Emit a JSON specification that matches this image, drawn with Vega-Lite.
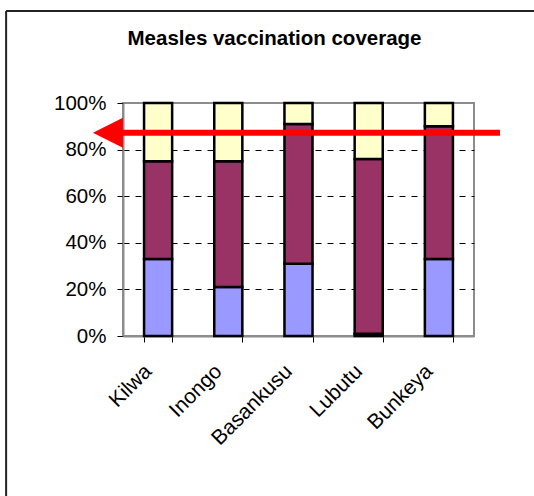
{
  "$schema": "https://vega.github.io/schema/vega-lite/v6.json",
  "width": 351,
  "height": 233,
  "autosize": {"type": "none"},
  "padding": {"left": 123, "top": 103, "right": 60, "bottom": 160},
  "background": "white",
  "title": {
    "text": "Measles vaccination coverage",
    "font": "Liberation Sans",
    "fontSize": 20.5,
    "fontWeight": "bold",
    "color": "black",
    "anchor": "middle",
    "baseline": "alphabetic",
    "dx": -24,
    "offset": -56
  },
  "config": {
    "view": {"stroke": "#8c8c8c", "strokeWidth": 2}
  },
  "resolve": {"scale": {"x": "independent"}, "axis": {"x": "independent"}},
  "layer": [
    {
      "data": {
        "values": [
          {"site": "Kilwa", "series": "Series1", "order": 1, "value": 33},
          {"site": "Kilwa", "series": "Series2", "order": 2, "value": 42},
          {"site": "Kilwa", "series": "Series3", "order": 3, "value": 25},
          {"site": "Inongo", "series": "Series1", "order": 1, "value": 21},
          {"site": "Inongo", "series": "Series2", "order": 2, "value": 54},
          {"site": "Inongo", "series": "Series3", "order": 3, "value": 25},
          {"site": "Basankusu", "series": "Series1", "order": 1, "value": 31},
          {"site": "Basankusu", "series": "Series2", "order": 2, "value": 60},
          {"site": "Basankusu", "series": "Series3", "order": 3, "value": 9},
          {"site": "Lubutu", "series": "Series1", "order": 1, "value": 1},
          {"site": "Lubutu", "series": "Series2", "order": 2, "value": 75},
          {"site": "Lubutu", "series": "Series3", "order": 3, "value": 24},
          {"site": "Bunkeya", "series": "Series1", "order": 1, "value": 33},
          {"site": "Bunkeya", "series": "Series2", "order": 2, "value": 57},
          {"site": "Bunkeya", "series": "Series3", "order": 3, "value": 10}
        ]
      },
      "mark": {"type": "bar", "stroke": "black", "strokeWidth": 2.5, "opacity": 1},
      "encoding": {
        "x": {
          "field": "site",
          "type": "nominal",
          "sort": null,
          "scale": {"paddingInner": 0.6, "paddingOuter": 0.3},
          "axis": {
            "title": null,
            "labelFont": "Liberation Sans",
            "labelFontSize": 21,
            "labelColor": "black",
            "labelAngle": -45,
            "labelAlign": "right",
            "labelBaseline": "middle",
            "labelPadding": 26,
            "labelOffset": -10,
            "tickBand": "extent",
            "tickSize": 6,
            "tickColor": "black",
            "domainColor": "#8c8c8c",
            "domainWidth": 2,
            "grid": false
          }
        },
        "y": {
          "field": "value",
          "type": "quantitative",
          "stack": "zero",
          "scale": {"domain": [0, 100], "nice": false},
          "axis": {
            "title": null,
            "values": [0, 20, 40, 60, 80, 100],
            "labelExpr": "datum.value + '%'",
            "labelFont": "Liberation Sans",
            "labelFontSize": 20.5,
            "labelColor": "black",
            "tickSize": 6,
            "tickColor": "black",
            "labelPadding": 11,
            "domainColor": "#8c8c8c",
            "domainWidth": 2,
            "grid": true,
            "gridColor": "black",
            "gridDash": [6, 6],
            "gridOpacity": {"condition": {"test": "datum.value == 0 || datum.value == 100", "value": 0}, "value": 1}
          }
        },
        "color": {
          "field": "series",
          "type": "nominal",
          "scale": {"domain": ["Series1", "Series2", "Series3"], "range": ["#9999FF", "#993366", "#FFFFCC"]},
          "legend": null
        },
        "order": {"field": "order", "type": "quantitative"}
      }
    },
    {
      "layer": [
        {
          "data": {"values": [{"x": -0.333, "x2": 1.6, "y": 139.5, "y2": 139.5}, {"x": -0.333, "x2": -0.333, "y": 139.5, "y2": -75}]},
          "mark": {"type": "rule", "color": "#222222", "strokeWidth": 2},
          "encoding": {
            "x": {"field": "x", "type": "quantitative", "scale": {"domain": [0, 1], "nice": false, "zero": false}, "axis": null},
            "x2": {"field": "x2"},
            "y": {"field": "y", "type": "quantitative", "axis": {"title": null}},
            "y2": {"field": "y2"}
          }
        },
        {
          "data": {"values": [{"x": -0.043, "x2": 1.074, "y": 87.2}]},
          "mark": {"type": "rule", "color": "#FF0000", "strokeWidth": 6},
          "encoding": {
            "x": {"field": "x", "type": "quantitative", "axis": null},
            "x2": {"field": "x2"},
            "y": {"field": "y", "type": "quantitative", "axis": {"title": null}}
          }
        },
        {
          "data": {"values": [{"x": -0.043, "y": 87.2}]},
          "mark": {"type": "point", "shape": "M -1 0 L 1 -1 L 1 1 Z", "size": 900, "filled": true, "color": "#FF0000", "opacity": 1, "strokeWidth": 0},
          "encoding": {
            "x": {"field": "x", "type": "quantitative", "axis": null},
            "y": {"field": "y", "type": "quantitative", "axis": {"title": null}}
          }
        }
      ]
    }
  ]
}
